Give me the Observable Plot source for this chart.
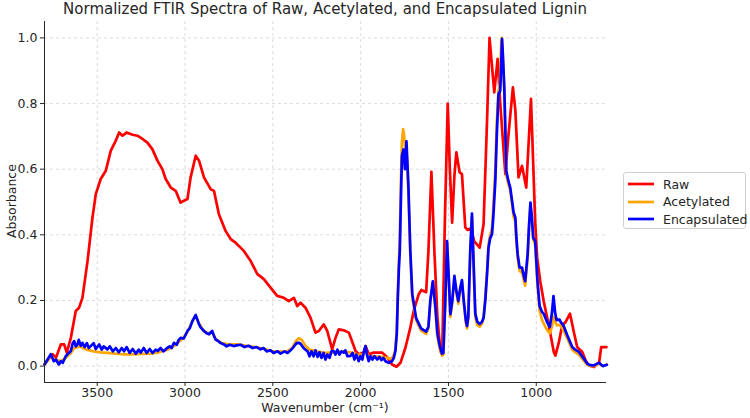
<!DOCTYPE html>
<html><head><meta charset="utf-8">
<script src="https://cdn.jsdelivr.net/npm/d3@7"></script>
<script src="https://cdn.jsdelivr.net/npm/@observablehq/plot@0.6"></script>
<style>
body{margin:0;background:#fff;font-family:"DejaVu Sans",sans-serif;}
#wrap{position:relative;width:750px;height:418px;overflow:hidden;background:#fff;}
#title{position:absolute;left:44px;width:562px;top:0px;text-align:center;font-size:15px;color:#262626;white-space:nowrap;}
#ylab{position:absolute;left:12px;top:201px;transform:translate(-50%,-50%) rotate(-90deg);font-size:12.5px;color:#262626;white-space:nowrap;line-height:1;}
#xlab{position:absolute;left:325px;top:402px;transform:translateX(-50%);font-size:12.5px;color:#262626;white-space:nowrap;line-height:1;}
#legend{position:absolute;left:623px;top:172px;width:123px;height:57px;border:1px solid #d0d0d0;border-radius:3px;box-sizing:border-box;background:#fff;font-size:12.5px;color:#262626;}
.item{position:absolute;left:4px;height:16px;display:flex;align-items:center;}
.item svg{width:26px;height:10px;margin-right:9px;}
#chart{position:absolute;left:0;top:0;}
</style>
</head><body>
<div id="wrap">
<div id="chart"></div>
<div id="title">Normalized FTIR Spectra of Raw, Acetylated, and Encapsulated Lignin</div>
<div id="ylab">Absorbance</div>
<div id="xlab">Wavenumber (cm⁻¹)</div>
<div id="legend"></div>
</div>
<script>
const seriesNames = ["Raw", "Acetylated", "Encapsulated"];
const seriesColors = ["#ff0000", "#ffa500", "#0000ff"];
const xTicks = [3500, 3000, 2500, 2000, 1500, 1000];
const yTicks = [0.0, 0.2, 0.4, 0.6, 0.8, 1.0];

const rawWn = [3800,3754,3735,3707,3688,3673,3650,3622,3603,3584,3555,3527,3508,3480,3451,3423,3394,3375,3356,3332,3299,3271,3242,3214,3186,3157,3129,3110,3081,3053,3025,3006,2986,2968,2939,2920,2892,2854,2835,2807,2769,2740,2712,2665,2626,2588,2551,2513,2475,2437,2409,2380,2361,2342,2314,2285,2257,2238,2210,2190,2162,2143,2124,2096,2067,2042,2029,2011,1982,1972,1954,1925,1877,1849,1821,1796,1773,1745,1717,1698,1669,1654,1627,1614,1597,1580,1563,1546,1535,1520,1504,1492,1479,1466,1455,1436,1423,1404,1390,1372,1353,1322,1300,1280,1266,1239,1220,1205,1176,1159,1133,1119,1101,1081,1057,1030,1006,995,977,957,929,900,891,871,852,833,808,786,767,738,719,700,671,642,630,600];
const rawAbs = [0.005,0.036,0.025,0.066,0.066,0.041,0.086,0.168,0.178,0.208,0.32,0.452,0.524,0.570,0.595,0.656,0.687,0.712,0.702,0.712,0.705,0.702,0.692,0.681,0.661,0.626,0.600,0.570,0.544,0.534,0.498,0.504,0.509,0.575,0.641,0.626,0.575,0.539,0.534,0.463,0.412,0.387,0.376,0.351,0.320,0.280,0.265,0.239,0.214,0.208,0.198,0.208,0.183,0.193,0.178,0.147,0.102,0.107,0.127,0.107,0.051,0.086,0.112,0.109,0.102,0.066,0.046,0.036,0.041,0.061,0.036,0.041,0.041,0.027,0.005,-0.002,0.010,0.056,0.117,0.168,0.219,0.232,0.225,0.35,0.592,0.35,0.15,0.045,0.05,0.45,0.80,0.6,0.437,0.58,0.651,0.59,0.585,0.422,0.415,0.42,0.38,0.361,0.432,0.75,1.0,0.834,0.936,0.80,0.585,0.70,0.849,0.78,0.575,0.61,0.544,0.814,0.44,0.33,0.258,0.196,0.125,0.043,0.032,0.073,0.125,0.134,0.160,0.104,0.058,0.043,0.017,0.002,-0.003,0.012,0.058,0.058];

const acetWn = [3800,3764,3735,3707,3679,3650,3630,3600,3560,3520,3480,3440,3400,3350,3300,3250,3200,3150,3100,3060,3020,2990,2960,2940,2920,2895,2870,2845,2825,2790,2750,2700,2650,2600,2550,2500,2460,2420,2390,2370,2352,2335,2315,2290,2250,2200,2150,2100,2060,2020,1990,1972,1955,1920,1880,1850,1830,1815,1802,1794,1789,1782,1777,1771,1765,1758,1752,1745,1739,1728,1717,1706,1684,1656,1627,1614,1603,1589,1574,1563,1550,1537,1529,1518,1508,1499,1489,1478,1466,1455,1444,1432,1423,1413,1401,1394,1387,1376,1366,1359,1347,1336,1322,1309,1300,1290,1279,1272,1262,1252,1245,1233,1225,1215,1207,1199,1196,1191,1182,1176,1171,1159,1148,1137,1129,1119,1114,1106,1095,1081,1071,1063,1049,1041,1033,1026,1017,1006,993,981,967,958,939,923,911,902,892,884,868,858,846,824,795,778,757,728,709,693,671,659,642,630,619,598];
const acetAbs = [0.005,0.030,0.018,0.015,0.025,0.040,0.055,0.060,0.050,0.045,0.042,0.040,0.038,0.036,0.036,0.037,0.038,0.042,0.050,0.062,0.080,0.100,0.135,0.152,0.130,0.108,0.100,0.103,0.082,0.070,0.066,0.066,0.062,0.058,0.052,0.046,0.044,0.045,0.055,0.075,0.085,0.080,0.062,0.050,0.045,0.040,0.042,0.045,0.042,0.036,0.035,0.045,0.030,0.030,0.028,0.025,0.022,0.028,0.050,0.110,0.210,0.320,0.380,0.550,0.680,0.722,0.700,0.660,0.665,0.530,0.340,0.210,0.140,0.108,0.098,0.115,0.200,0.255,0.170,0.090,0.055,0.032,0.035,0.195,0.375,0.275,0.150,0.195,0.270,0.225,0.190,0.235,0.255,0.195,0.132,0.115,0.145,0.340,0.455,0.340,0.150,0.125,0.120,0.130,0.145,0.210,0.300,0.370,0.400,0.420,0.480,0.600,0.740,0.840,0.860,0.990,1.000,0.950,0.840,0.710,0.585,0.555,0.535,0.490,0.455,0.440,0.390,0.330,0.290,0.285,0.262,0.245,0.330,0.420,0.490,0.450,0.385,0.370,0.250,0.170,0.140,0.130,0.110,0.100,0.120,0.150,0.135,0.125,0.125,0.120,0.110,0.085,0.050,0.042,0.035,0.015,0.004,0.001,0.000,0.003,0.008,0.003,0.000,0.005];

const encWn = [3800,3764,3747,3735,3718,3707,3696,3679,3662,3650,3639,3631,3622,3612,3605,3593,3584,3571,3559,3548,3537,3520,3508,3489,3474,3463,3442,3428,3411,3394,3377,3360,3347,3332,3315,3298,3280,3263,3252,3235,3218,3201,3184,3167,3156,3139,3122,3100,3087,3076,3063,3047,3036,3025,3007,2986,2973,2958,2939,2920,2911,2892,2877,2863,2845,2837,2826,2808,2797,2778,2763,2746,2723,2706,2683,2661,2638,2615,2592,2570,2553,2535,2513,2496,2473,2456,2433,2416,2399,2382,2365,2352,2342,2325,2314,2302,2291,2280,2268,2257,2245,2234,2223,2211,2200,2189,2177,2166,2153,2143,2132,2120,2109,2096,2087,2075,2058,2046,2035,2024,2011,2001,1990,1981,1972,1964,1954,1944,1933,1921,1906,1893,1881,1870,1859,1840,1821,1811,1802,1794,1789,1782,1777,1771,1765,1756,1748,1739,1728,1717,1706,1684,1656,1627,1614,1603,1589,1574,1563,1550,1537,1529,1518,1508,1499,1489,1478,1466,1455,1444,1432,1423,1413,1401,1394,1387,1376,1366,1359,1347,1336,1322,1309,1300,1290,1279,1272,1262,1252,1245,1233,1225,1215,1205,1199,1195,1191,1182,1176,1171,1159,1148,1137,1129,1119,1114,1106,1095,1081,1071,1063,1049,1041,1033,1026,1017,1006,993,981,967,958,939,923,911,902,892,884,868,858,846,824,795,778,757,728,709,693,671,659,642,630,619,598];
const encAbs = [0.005,0.036,0.015,0.020,0.005,0.015,0.010,0.030,0.040,0.046,0.070,0.076,0.060,0.066,0.080,0.062,0.071,0.058,0.070,0.055,0.061,0.070,0.052,0.066,0.050,0.060,0.051,0.060,0.045,0.055,0.042,0.055,0.045,0.058,0.040,0.052,0.038,0.050,0.041,0.055,0.040,0.052,0.040,0.050,0.046,0.055,0.045,0.056,0.060,0.055,0.071,0.065,0.080,0.086,0.084,0.107,0.115,0.137,0.156,0.127,0.118,0.107,0.100,0.097,0.107,0.095,0.081,0.075,0.070,0.066,0.060,0.065,0.061,0.063,0.065,0.058,0.062,0.055,0.058,0.051,0.055,0.045,0.048,0.040,0.045,0.038,0.045,0.040,0.048,0.058,0.070,0.071,0.068,0.055,0.050,0.045,0.030,0.045,0.030,0.048,0.028,0.042,0.025,0.040,0.020,0.035,0.025,0.045,0.046,0.035,0.050,0.035,0.045,0.041,0.048,0.030,0.031,0.040,0.020,0.035,0.015,0.030,0.020,0.045,0.061,0.035,0.015,0.030,0.020,0.030,0.020,0.028,0.018,0.025,0.015,0.010,0.015,0.025,0.046,0.100,0.198,0.300,0.351,0.500,0.640,0.660,0.600,0.685,0.550,0.350,0.220,0.146,0.115,0.105,0.120,0.200,0.258,0.180,0.100,0.063,0.038,0.040,0.200,0.381,0.280,0.158,0.200,0.275,0.230,0.198,0.240,0.262,0.200,0.140,0.122,0.150,0.350,0.465,0.350,0.160,0.135,0.128,0.135,0.147,0.200,0.290,0.360,0.390,0.402,0.450,0.565,0.700,0.829,0.839,0.930,0.997,0.960,0.849,0.720,0.595,0.565,0.544,0.500,0.468,0.453,0.400,0.341,0.300,0.300,0.275,0.259,0.341,0.430,0.498,0.460,0.390,0.381,0.259,0.183,0.165,0.160,0.135,0.119,0.160,0.213,0.160,0.140,0.142,0.132,0.125,0.095,0.058,0.050,0.043,0.022,0.007,0.003,0.002,0.006,0.010,0.004,0.000,0.004];

function toRows(wn, ab, name) {
  const n = Math.min(wn.length, ab.length);
  const out = [];
  for (let i = 0; i < n; i++) out.push({wn: wn[i], abs: ab[i], series: name});
  return out;
}
const rows = [
  ...toRows(rawWn, rawAbs, seriesNames[0]),
  ...toRows(acetWn, acetAbs, seriesNames[1]),
  ...toRows(encWn, encAbs, seriesNames[2])
];

const chart = Plot.plot({
  width: 750, height: 418,
  marginLeft: 44, marginRight: 144, marginTop: 21, marginBottom: 36,
  style: {fontFamily: "DejaVu Sans, sans-serif", fontSize: "12.5px", color: "#262626", background: "white"},
  x: {domain: [3800, 600], label: null},
  y: {domain: [-0.05, 1.05], label: null},
  color: {domain: seriesNames, range: seriesColors},
  marks: [
    Plot.gridX(xTicks, {stroke: "#c8c8c8", strokeOpacity: 0.8, strokeDasharray: "3,3", strokeWidth: 0.8}),
    Plot.gridY(yTicks, {stroke: "#c8c8c8", strokeOpacity: 0.8, strokeDasharray: "3,3", strokeWidth: 0.8}),
    Plot.axisX(xTicks, {tickSize: 4, tickPadding: 2, tickFormat: d3.format("d"), stroke: "#262626", fill: "#262626"}),
    Plot.axisY(yTicks, {tickSize: 4, tickPadding: 3, tickFormat: d3.format(".1f"), stroke: "#262626", fill: "#262626"}),
    Plot.line(rows, {x: "wn", y: "abs", z: "series", stroke: "series", strokeWidth: 2.7, strokeLinejoin: "round", strokeLinecap: "round"}),
    Plot.ruleX([3800], {stroke: "#262626", strokeWidth: 1}),
    Plot.ruleY([-0.05], {stroke: "#262626", strokeWidth: 1})
  ]
});
document.getElementById("chart").appendChild(chart);

const legend = document.getElementById("legend");
seriesNames.forEach((name, i) => {
  const item = document.createElement("div");
  item.className = "item";
  item.style.top = (3 + i * 17.5) + "px";
  item.innerHTML = `<svg viewBox="0 0 26 10"><line x1="0" y1="5" x2="26" y2="5" stroke="${seriesColors[i]}" stroke-width="2.7"/></svg><span>${name}</span>`;
  legend.appendChild(item);
});
</script>
</body></html>
